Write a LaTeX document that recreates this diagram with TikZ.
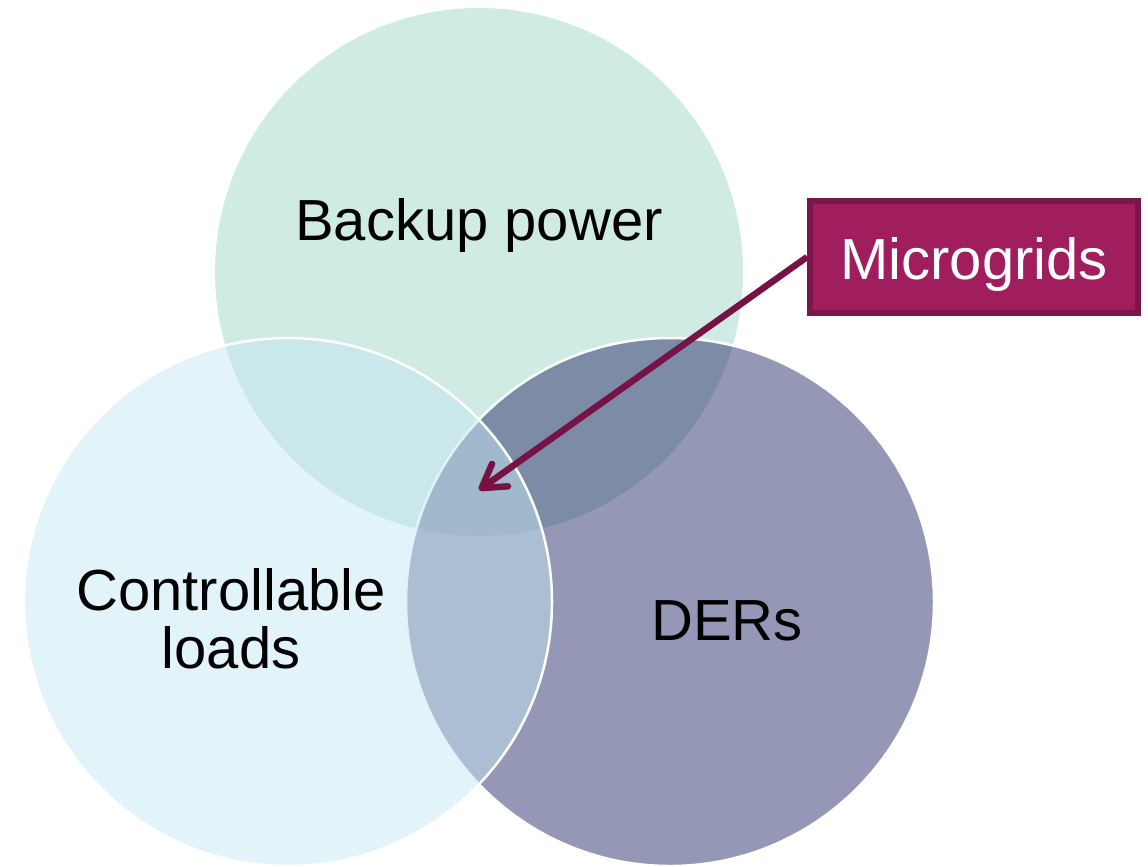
\documentclass[tikz,border=0pt]{standalone}
\usepackage{fontspec}
\setmainfont{Liberation Sans}
\usepackage{tikz}
\usetikzlibrary{arrows.meta}
\definecolor{backupcol}{RGB}{208,235,228}
\definecolor{loadcol}{RGB}{197,231,243}
\definecolor{dercol}{RGB}{41,47,107}
\definecolor{mgfill}{RGB}{160,30,94}
\definecolor{mgline}{RGB}{122,22,72}
\definecolor{arrowcol}{RGB}{118,18,68}

\begin{document}
\begin{tikzpicture}[x=0.02cm,y=-0.02cm,
		label/.style={font=\fontsize{33}{33}\selectfont,align=center,anchor=base}]
		\useasboundingbox (0,0) rectangle (1148,866);
		% the three sets
		\fill[backupcol] (479,272) circle (264);
		\draw[white,line width=0.05cm,fill=dercol,fill opacity=0.5] (670,602) circle (264);
		\draw[white,line width=0.05cm,fill=loadcol,fill opacity=0.5] (288,602) circle (264);
		\node[label] (backup) at (479,240) {Backup power};
		\node[label] (loads) at (231,668) {Controllable\\loads};
		\node[label] (ders) at (727,640) {DERs};
		% callout
		\node[draw=mgline,line width=0.12cm,fill=mgfill,text=white,
		font=\fontsize{33}{33}\selectfont,inner sep=0pt,
		minimum width=6.56cm,minimum height=2.24cm,
		text height=1.2cm,text depth=0.32cm] (mg) at (974,257) {Microgrids};
		\coordinate (tip) at (479,490);
		\draw[arrowcol,line width=0.13cm,-{Straight Barb[length=0.45cm,width=0.55cm,round]}] (mg.west) -- (tip);
\end{tikzpicture}
\end{document}
